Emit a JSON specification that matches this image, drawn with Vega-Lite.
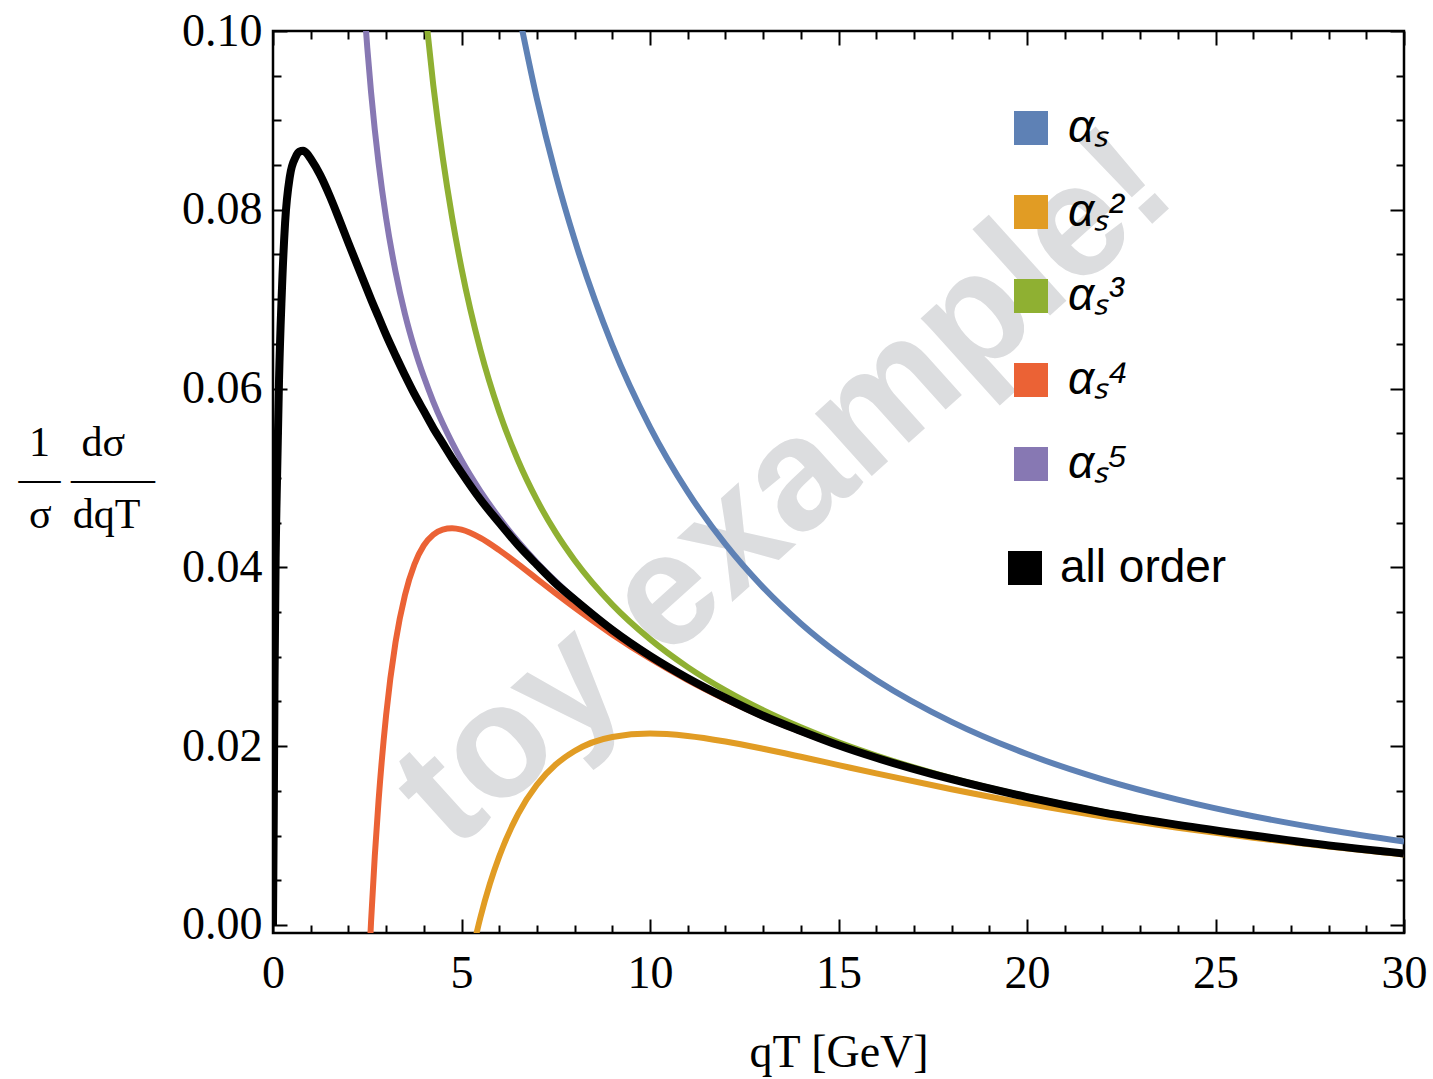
{
  "$schema": "https://vega.github.io/schema/vega-lite/v6.json",
  "width": 1131,
  "height": 902,
  "autosize": {"type": "none"},
  "padding": {"left": 273, "top": 31, "right": 29, "bottom": 146},
  "background": "white",
  "config": {
    "view": {"stroke": "black", "strokeWidth": 2.5},
    "font": "Liberation Serif",
    "axis": {
      "domain": false,
      "grid": false,
      "tickColor": "black",
      "tickWidth": 2,
      "labelFont": "Liberation Serif",
      "labelFontSize": 46,
      "labelColor": "black",
      "labelOverlap": false,
      "labelFlush": false,
      "titleFont": "Liberation Serif",
      "titleFontWeight": "normal",
      "titleColor": "black"
    }
  },
  "datasets": {
    "wm": [{"q": 13.58, "v": 0.0487, "t": "toy example!"}],
    "curves": [
      {"s":"a1","q":6.5,"v":0.1024},{"s":"a1","q":7,"v":0.09241},{"s":"a1","q":7.5,"v":0.08393},{"s":"a1","q":8,"v":0.07666},{"s":"a1","q":9,"v":0.06484},{"s":"a1","q":10,"v":0.0557},{"s":"a1","q":11,"v":0.04845},{"s":"a1","q":12,"v":0.04259},{"s":"a1","q":13,"v":0.03776},{"s":"a1","q":14,"v":0.03373},{"s":"a1","q":15,"v":0.03032},{"s":"a1","q":16,"v":0.02741},{"s":"a1","q":18,"v":0.02272},{"s":"a1","q":20,"v":0.01912},{"s":"a1","q":22,"v":0.01629},{"s":"a1","q":24,"v":0.01402},{"s":"a1","q":26,"v":0.01216},{"s":"a1","q":28,"v":0.01063},{"s":"a1","q":30,"v":0.00934},
      {"s":"a2","q":5.25,"v":-0.00367},{"s":"a2","q":5.5,"v":0.00082},{"s":"a2","q":5.75,"v":0.00456},{"s":"a2","q":6,"v":0.00766},{"s":"a2","q":6.5,"v":0.0124},{"s":"a2","q":7,"v":0.01568},{"s":"a2","q":7.5,"v":0.01794},{"s":"a2","q":8,"v":0.01946},{"s":"a2","q":9,"v":0.02103},{"s":"a2","q":10,"v":0.02141},{"s":"a2","q":11,"v":0.02114},{"s":"a2","q":12,"v":0.02052},{"s":"a2","q":13,"v":0.01971},{"s":"a2","q":14,"v":0.01881},{"s":"a2","q":15,"v":0.01788},{"s":"a2","q":16,"v":0.01695},{"s":"a2","q":18,"v":0.01518},{"s":"a2","q":20,"v":0.01357},{"s":"a2","q":22,"v":0.01214},{"s":"a2","q":24,"v":0.01087},{"s":"a2","q":26,"v":0.00975},{"s":"a2","q":28,"v":0.00876},{"s":"a2","q":30,"v":0.00789},
      {"s":"a3","q":4,"v":0.1038},{"s":"a3","q":4.25,"v":0.09399},{"s":"a3","q":4.5,"v":0.08591},{"s":"a3","q":4.75,"v":0.07917},{"s":"a3","q":5,"v":0.07345},{"s":"a3","q":5.5,"v":0.06434},{"s":"a3","q":6,"v":0.0574},{"s":"a3","q":6.5,"v":0.05195},{"s":"a3","q":7,"v":0.04754},{"s":"a3","q":7.5,"v":0.04388},{"s":"a3","q":8,"v":0.0408},{"s":"a3","q":9,"v":0.03583},{"s":"a3","q":10,"v":0.03197},{"s":"a3","q":11,"v":0.02884},{"s":"a3","q":12,"v":0.02624},{"s":"a3","q":13,"v":0.02402},{"s":"a3","q":14,"v":0.02211},{"s":"a3","q":15,"v":0.02043},{"s":"a3","q":16,"v":0.01895},{"s":"a3","q":18,"v":0.01643},{"s":"a3","q":20,"v":0.01438},{"s":"a3","q":22,"v":0.01267},{"s":"a3","q":24,"v":0.01123},{"s":"a3","q":26,"v":0.00999},{"s":"a3","q":28,"v":0.00893},{"s":"a3","q":30,"v":0.008},
      {"s":"a4","q":2.4,"v":-0.019},{"s":"a4","q":2.5,"v":-0.00843},{"s":"a4","q":2.6,"v":0.0003},{"s":"a4","q":2.7,"v":0.00773},{"s":"a4","q":2.8,"v":0.01389},{"s":"a4","q":3,"v":0.02346},{"s":"a4","q":3.25,"v":0.03162},{"s":"a4","q":3.5,"v":0.0369},{"s":"a4","q":3.75,"v":0.04032},{"s":"a4","q":4,"v":0.04245},{"s":"a4","q":4.25,"v":0.04365},{"s":"a4","q":4.5,"v":0.04423},{"s":"a4","q":4.75,"v":0.04438},{"s":"a4","q":5,"v":0.04422},{"s":"a4","q":5.5,"v":0.0433},{"s":"a4","q":6,"v":0.04193},{"s":"a4","q":6.5,"v":0.04036},{"s":"a4","q":7,"v":0.03872},{"s":"a4","q":7.5,"v":0.03708},{"s":"a4","q":8,"v":0.03549},{"s":"a4","q":9,"v":0.0325},{"s":"a4","q":10,"v":0.0298},{"s":"a4","q":11,"v":0.02739},{"s":"a4","q":12,"v":0.02525},{"s":"a4","q":13,"v":0.02333},{"s":"a4","q":14,"v":0.02162},{"s":"a4","q":15,"v":0.02008},{"s":"a4","q":16,"v":0.01869},{"s":"a4","q":18,"v":0.0163},{"s":"a4","q":20,"v":0.0143},{"s":"a4","q":22,"v":0.01262},{"s":"a4","q":24,"v":0.0112},{"s":"a4","q":26,"v":0.00997},{"s":"a4","q":28,"v":0.00892},{"s":"a4","q":30,"v":0.00799},
      {"s":"a5","q":2.4,"v":0.1039},{"s":"a5","q":2.5,"v":0.09817},{"s":"a5","q":2.6,"v":0.0932},{"s":"a5","q":2.7,"v":0.08896},{"s":"a5","q":2.8,"v":0.08524},{"s":"a5","q":3,"v":0.07907},{"s":"a5","q":3.25,"v":0.07309},{"s":"a5","q":3.5,"v":0.06835},{"s":"a5","q":3.75,"v":0.06453},{"s":"a5","q":4,"v":0.06134},{"s":"a5","q":4.25,"v":0.05855},{"s":"a5","q":4.5,"v":0.05611},{"s":"a5","q":4.75,"v":0.05395},{"s":"a5","q":5,"v":0.05198},{"s":"a5","q":5.5,"v":0.04853},{"s":"a5","q":6,"v":0.04554},{"s":"a5","q":6.5,"v":0.0429},{"s":"a5","q":7,"v":0.04055},{"s":"a5","q":7.5,"v":0.03842},{"s":"a5","q":8,"v":0.03648},{"s":"a5","q":9,"v":0.03306},{"s":"a5","q":10,"v":0.03013},{"s":"a5","q":11,"v":0.0276},{"s":"a5","q":12,"v":0.02538},{"s":"a5","q":13,"v":0.02342},{"s":"a5","q":14,"v":0.02168},{"s":"a5","q":15,"v":0.02012},{"s":"a5","q":16,"v":0.01872},{"s":"a5","q":18,"v":0.01631},{"s":"a5","q":20,"v":0.01431},{"s":"a5","q":22,"v":0.01263},{"s":"a5","q":24,"v":0.0112},{"s":"a5","q":26,"v":0.00997},{"s":"a5","q":28,"v":0.00892},{"s":"a5","q":30,"v":0.00799},
      {"s":"all","q":0,"v":0},{"s":"all","q":0.02,"v":0.012},{"s":"all","q":0.04,"v":0.027},{"s":"all","q":0.07,"v":0.041},{"s":"all","q":0.11,"v":0.0505},{"s":"all","q":0.16,"v":0.061},{"s":"all","q":0.23,"v":0.0703},{"s":"all","q":0.32,"v":0.0785},{"s":"all","q":0.45,"v":0.0838},{"s":"all","q":0.6,"v":0.0859},{"s":"all","q":0.7,"v":0.0865},{"s":"all","q":0.8,"v":0.0866},{"s":"all","q":0.9,"v":0.0863},{"s":"all","q":1,"v":0.0857},{"s":"all","q":1.25,"v":0.0839},{"s":"all","q":1.5,"v":0.0816},{"s":"all","q":1.75,"v":0.079},{"s":"all","q":2,"v":0.0763},{"s":"all","q":2.4,"v":0.0721},{"s":"all","q":2.6,"v":0.07},{"s":"all","q":2.8,"v":0.068},{"s":"all","q":3,"v":0.066},{"s":"all","q":3.25,"v":0.0637},{"s":"all","q":3.5,"v":0.0615},{"s":"all","q":3.75,"v":0.0594},{"s":"all","q":4,"v":0.0575},{"s":"all","q":4.25,"v":0.0556},{"s":"all","q":4.5,"v":0.0539},{"s":"all","q":4.75,"v":0.0522},{"s":"all","q":5,"v":0.0506},{"s":"all","q":5.5,"v":0.0476},{"s":"all","q":6,"v":0.045},{"s":"all","q":6.5,"v":0.0425},{"s":"all","q":7,"v":0.0403},{"s":"all","q":7.5,"v":0.0382},{"s":"all","q":8,"v":0.0364},{"s":"all","q":9,"v":0.033},{"s":"all","q":10,"v":0.0301},{"s":"all","q":11,"v":0.0276},{"s":"all","q":12,"v":0.0254},{"s":"all","q":13,"v":0.0234},{"s":"all","q":14,"v":0.0217},{"s":"all","q":15,"v":0.0201},{"s":"all","q":16,"v":0.0187},{"s":"all","q":18,"v":0.0163},{"s":"all","q":20,"v":0.0143},{"s":"all","q":22,"v":0.0126},{"s":"all","q":24,"v":0.0112},{"s":"all","q":26,"v":0.01},{"s":"all","q":28,"v":0.0089},{"s":"all","q":30,"v":0.008}
    ]
  },
  "resolve": {"axis": {"x": "independent", "y": "independent"}},
  "layer": [
    {
      "data": {"name": "wm"},
      "mark": {"type": "text", "font": "Liberation Sans", "fontWeight": "bold", "fontSize": 160, "angle": 318, "color": "#dcdddf", "align": "center", "baseline": "middle"},
      "encoding": {
        "x": {"field": "q", "type": "quantitative", "scale": {"domain": [0, 30], "nice": false, "zero": false}, "axis": null},
        "y": {"field": "v", "type": "quantitative", "scale": {"domain": [-0.0009, 0.1], "nice": false, "zero": false}, "axis": null},
        "text": {"field": "t"}
      }
    },
    {
      "data": {"name": "curves"},
      "transform": [{"filter": "datum.s !== 'all'"}],
      "mark": {"type": "line", "strokeWidth": 6, "clip": true, "interpolate": "monotone", "strokeJoin": "round"},
      "encoding": {
        "x": {"field": "q", "type": "quantitative", "scale": {"domain": [0, 30], "nice": false, "zero": false},
          "axis": {"orient": "bottom", "values": [0,1,2,3,4,5,6,7,8,9,10,11,12,13,14,15,16,17,18,19,20,21,22,23,24,25,26,27,28,29,30],
            "labelExpr": "datum.value % 5 === 0 ? datum.label : ''",
            "tickSize": {"condition": {"test": "datum.value % 5 === 0", "value": -14}, "value": -8},
            "labelPadding": 32, "title": "qT [GeV]", "titleFontSize": 46, "titlePadding": 28}},
        "y": {"field": "v", "type": "quantitative", "scale": {"domain": [-0.0009, 0.1], "nice": false, "zero": false},
          "axis": {"orient": "left", "values": [0,0.005,0.01,0.015,0.02,0.025,0.03,0.035,0.04,0.045,0.05,0.055,0.06,0.065,0.07,0.075,0.08,0.085,0.09,0.095,0.1],
            "labelExpr": "round(datum.value*1000) % 20 === 0 ? format(datum.value, '.2f') : ''",
            "tickSize": {"condition": {"test": "round(datum.value*1000) % 20 === 0", "value": -14}, "value": -8},
            "labelPadding": 25,
            "title": ["\u200b\u00a01\u00a0\u00a0\u00a0dσ", "—\u00a0——", "\u200b\u00a0σ\u00a0\u00a0dqT"],
            "titleFontSize": 42, "titleAngle": 0, "titleAlign": "left", "titleBaseline": "alphabetic",
            "titleX": -255, "titleY": 424, "titleLineHeight": 36}},
        "stroke": {"field": "s", "type": "nominal",
          "scale": {"domain": ["a1","a2","a3","a4","a5"], "range": ["#5e81b5","#e19c24","#8fb032","#eb6235","#8778b3"]},
          "legend": {"orient": "none", "legendX": 735, "legendY": 74, "title": null, "symbolType": "square", "symbolSize": 1024,
            "labelFont": "Liberation Sans", "labelFontSize": 46, "labelFontStyle": "italic", "labelColor": "black", "labelOffset": 14, "rowPadding": 38, "padding": 0, "labelLimit": 400,
            "labelExpr": "{'a1':'αₛ','a2':'αₛ²','a3':'αₛ³','a4':'αₛ⁴','a5':'αₛ⁵'}[datum.value]",
            "symbolStrokeWidth": 2,
            "symbolOpacity": 1,
            "encoding": {"symbols": {
              "fill": {"condition": [
                {"test": "datum.value === 'a1'", "value": "#5e81b5"},
                {"test": "datum.value === 'a2'", "value": "#e19c24"},
                {"test": "datum.value === 'a3'", "value": "#8fb032"},
                {"test": "datum.value === 'a4'", "value": "#eb6235"}
              ], "value": "#8778b3"},
              "stroke": {"condition": [
                {"test": "datum.value === 'a1'", "value": "#3f5f8f"},
                {"test": "datum.value === 'a2'", "value": "#a87418"},
                {"test": "datum.value === 'a3'", "value": "#6a8424"},
                {"test": "datum.value === 'a4'", "value": "#b44826"}
              ], "value": "#62568a"},
              "fillOpacity": {"value": 1}, "strokeWidth": {"value": 2}}}}}
      }
    },
    {
      "data": {"name": "curves"},
      "transform": [{"filter": "datum.s === 'all'"}],
      "mark": {"type": "line", "strokeWidth": 8, "clip": true, "interpolate": "monotone", "strokeJoin": "round"},
      "encoding": {
        "x": {"field": "q", "type": "quantitative", "scale": {"domain": [0, 30], "nice": false, "zero": false},
          "axis": {"orient": "top", "values": [0,1,2,3,4,5,6,7,8,9,10,11,12,13,14,15,16,17,18,19,20,21,22,23,24,25,26,27,28,29,30],
            "labels": false, "title": null,
            "tickSize": {"condition": {"test": "datum.value % 5 === 0", "value": -14}, "value": -8}}},
        "y": {"field": "v", "type": "quantitative", "scale": {"domain": [-0.0009, 0.1], "nice": false, "zero": false},
          "axis": {"orient": "right", "values": [0,0.005,0.01,0.015,0.02,0.025,0.03,0.035,0.04,0.045,0.05,0.055,0.06,0.065,0.07,0.075,0.08,0.085,0.09,0.095,0.1],
            "labels": false, "title": null,
            "tickSize": {"condition": {"test": "round(datum.value*1000) % 20 === 0", "value": -14}, "value": -8}}},
        "color": {"field": "s", "type": "nominal",
          "scale": {"domain": ["all"], "range": ["#000000"]},
          "legend": {"orient": "none", "legendX": 729, "legendY": 514, "title": null, "symbolType": "square", "symbolSize": 1024,
            "labelFont": "Liberation Sans", "labelFontSize": 46, "labelColor": "black", "labelOffset": 12, "padding": 0, "labelLimit": 400,
            "labelExpr": "'all order'",
            "encoding": {"symbols": {"fill": {"value": "#000000"}, "fillOpacity": {"value": 1}, "stroke": {"value": "#000000"}, "strokeWidth": {"value": 2}}}}}
      }
    }
  ]
}
